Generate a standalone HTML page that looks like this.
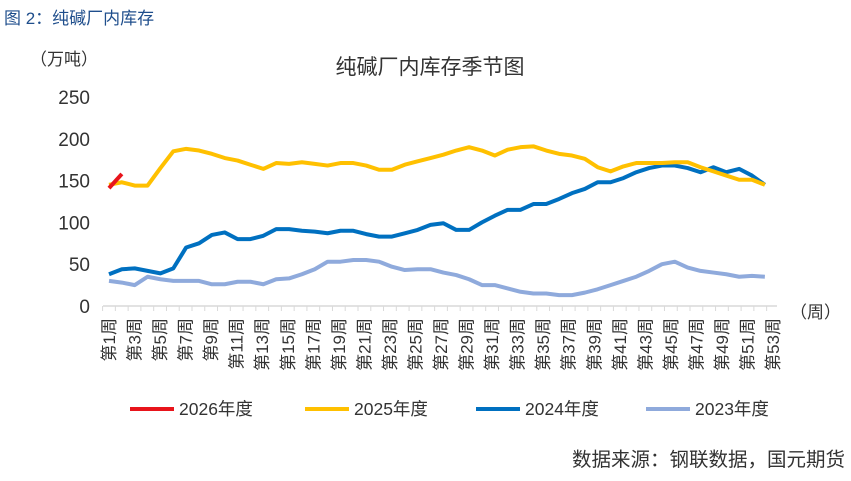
<!DOCTYPE html>
<html><head><meta charset="utf-8"><style>
body{margin:0;background:#fff;}
svg text{font-family:"Liberation Sans","Noto Sans CJK SC",sans-serif;}
</style></head><body>
<svg width="851" height="476" xmlns="http://www.w3.org/2000/svg">
<text x="4" y="24" font-size="17" fill="#1f4e8c">图 2：纯碱厂内库存</text>
<text x="430" y="74" font-size="21" fill="#333" text-anchor="middle">纯碱厂内库存季节图</text>
<text x="30" y="65" font-size="17" fill="#333">（万吨）</text>
<text x="790" y="318" font-size="17" fill="#333">（周）</text>
<g id="yt"></g><g id="xt"></g><g id="ser"></g>
<g id="legend"></g>
<text x="845" y="466" font-size="19.5" fill="#333" text-anchor="end">数据来源：钢联数据，国元期货</text>
</svg>
<script>
const yTicks=[0,50,100,150,200,250];
const weeks=[];for(let i=1;i<=53;i++)weeks.push(i);
const s2026=[141,158];
const s2025=[145,148,144,144,165,185,188,186,182,177,174,169,164,171,170,172,170,168,171,171,168,163,163,169,173,177,181,186,190,186,180,187,190,191,186,182,180,176,166,161,167,171,171,171,172,172,166,161,156,151,151,145];
const s2024=[38,44,45,42,39,45,70,75,85,88,80,80,84,92,92,90,89,87,90,90,86,83,83,87,91,97,99,91,91,100,108,115,115,122,122,128,135,140,148,148,153,160,165,168,168,165,160,166,160,164,156,145];
const s2023=[30,28,25,35,32,30,30,30,26,26,29,29,26,32,33,38,44,53,53,55,55,53,47,43,44,44,40,37,32,25,25,21,17,15,15,13,13,16,20,25,30,35,42,50,53,46,42,40,38,35,36,35];
const names=['2026年度','2025年度','2024年度','2023年度'];
const colors=['#e8141b','#ffc000','#0070c0','#8faadc'];
const NS='http://www.w3.org/2000/svg';
const y=v=>306-v*0.836;
const x=w=>109+(w-1)*12.86;
const xl=w=>109+(w-1)*12.77;
function mk(t,a,p){const e=document.createElementNS(NS,t);for(const k in a)e.setAttribute(k,a[k]);p.appendChild(e);return e;}
const yt=document.getElementById('yt');
yTicks.forEach(v=>{const t=mk('text',{x:90,y:y(v)+7,'font-size':19,fill:'#333','text-anchor':'end'},yt);t.textContent=v;

});
const xt=document.getElementById('xt');
const ax=mk('line',{x1:103,x2:777,y1:306,y2:306,stroke:'#d9d9d9','stroke-width':1.5},xt);


weeks.forEach(w=>{const tx=xl(w)-6.4;mk('line',{x1:tx,x2:tx,y1:306,y2:311,stroke:'#d9d9d9'},xt);
if(w%2==1){const t=mk('text',{x:0,y:0,'font-size':17,fill:'#333','text-anchor':'end',transform:`translate(${xl(w)+6},318) rotate(-90)`},xt);t.textContent='第'+w+'周';

}});
const ser=document.getElementById('ser');
[s2023,s2024,s2025,s2026].forEach((s,k)=>{const i=3-k;const p=mk('polyline',{points:s.map((v,j)=>x(j+1)+','+y(v)).join(' '),fill:'none',stroke:colors[i],'stroke-width':4,'stroke-linejoin':'round'},ser);

});
const lg=document.getElementById('legend');
const lx=[130,305,476,646];
names.forEach((n,i)=>{const g=mk('g',{},lg);


mk('line',{x1:lx[i],x2:lx[i]+44,y1:409,y2:409,stroke:colors[i],'stroke-width':4},g);
const t=mk('text',{x:lx[i]+49,y:415,'font-size':17.5,fill:'#333'},g);t.textContent=n;});
</script>
</body></html>
